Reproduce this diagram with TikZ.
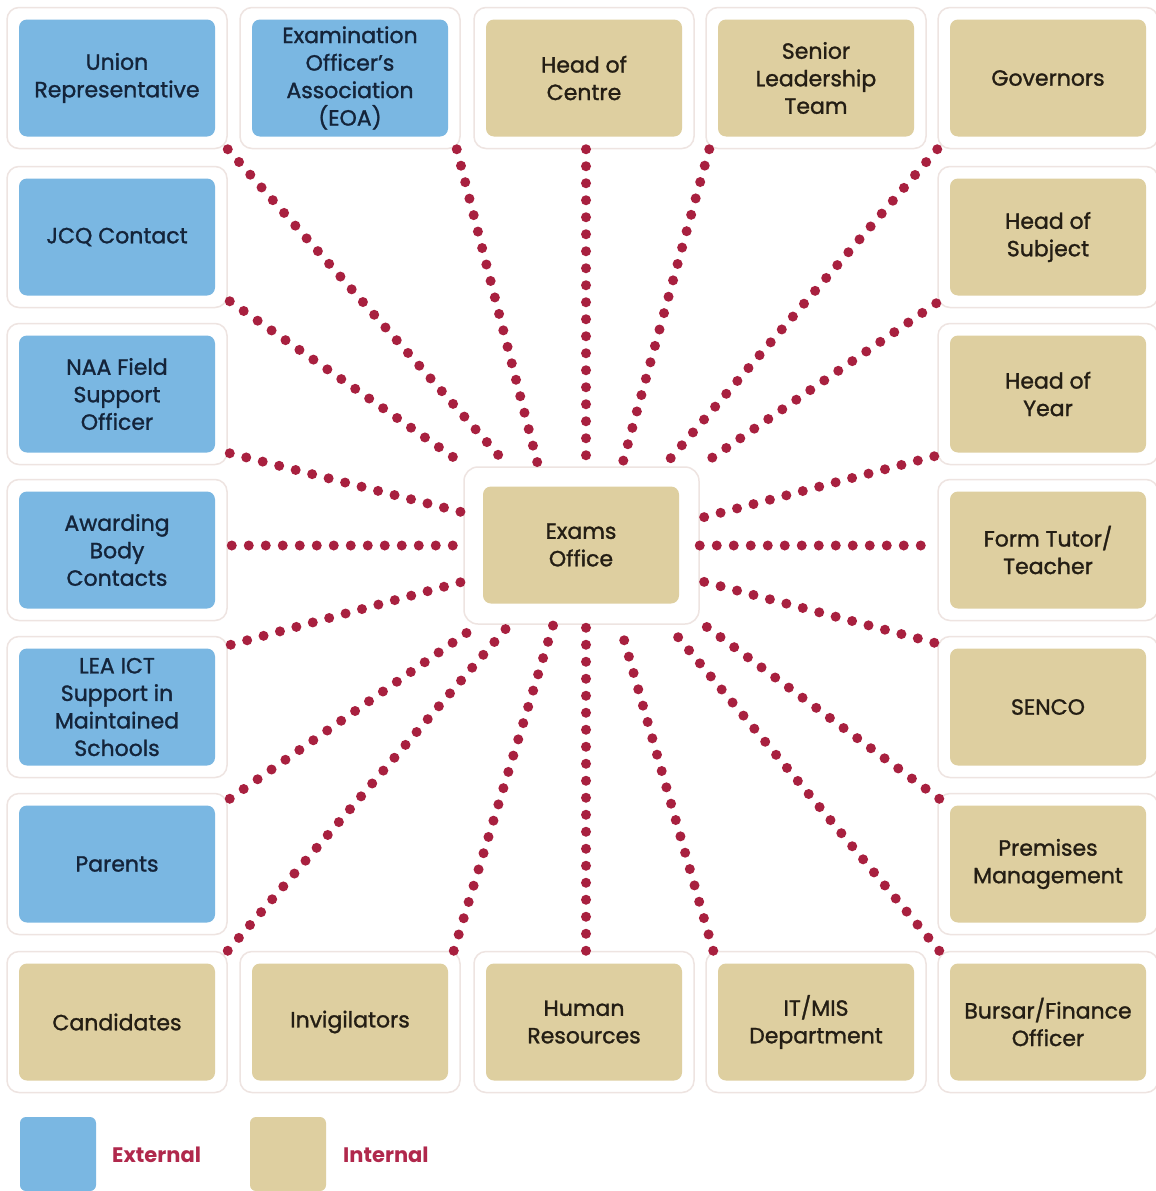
\documentclass[tikz,border=0pt]{standalone}
\usepackage{fontspec}
\setmainfont{Poppins}
\newfontfamily\boxfont{Poppins}[FakeBold=1.3]
\usetikzlibrary{calc}
\definecolor{extblue}{HTML}{7AB7E2}
\definecolor{inttan}{HTML}{DECFA0}
\definecolor{dotred}{HTML}{A8203F}
\definecolor{framecol}{HTML}{EEE4E1}
\definecolor{navytext}{HTML}{14243A}
\definecolor{tantext}{HTML}{241E14}
\definecolor{legred}{HTML}{B0284C}
\begin{document}
\begin{tikzpicture}[x=1pt,y=-1pt,
 frame/.style={draw=framecol, line width=1.5pt, fill=white, rounded corners=12pt, minimum width=220pt, minimum height=141pt, inner sep=0pt},
 box/.style={rounded corners=8pt, minimum width=196pt, minimum height=117pt, inner sep=0pt, align=center, font=\boxfont\fontsize{22}{27.5}\selectfont},
 ext/.style={box, fill=extblue, text=navytext},
 int/.style={box, fill=inttan, text=tantext},
 dotline/.style={draw=dotred, line width=10pt, line cap=round, dash pattern=on 0pt off 17pt},
 legsq/.style={rounded corners=6pt, minimum width=76pt, minimum height=74pt, inner sep=0pt},
 legtext/.style={text=legred, anchor=west, inner sep=0pt, font=\fontsize{21}{26}\selectfont\bfseries},
]
\useasboundingbox (0,0) rectangle (1156,1191);
\fill[white] (0,0) rectangle (1156,1191);
% frames
\node[frame] (fUR)  at (117,78) {};
\node[frame] (fEOA) at (350,78) {};
\node[frame] (fHoC) at (584,78) {};
\node[frame] (fSLT) at (816,78) {};
\node[frame] (fGov) at (1048,78) {};
\node[frame] (fJCQ) at (117,237) {};
\node[frame] (fHoS) at (1048,237) {};
\node[frame] (fNAA) at (117,394) {};
\node[frame] (fHoY) at (1048,394) {};
\node[frame] (fABC) at (117,550) {};
\node[frame] (fFT)  at (1048,550) {};
\node[frame] (fLEA) at (117,707) {};
\node[frame] (fSEN) at (1048,707) {};
\node[frame] (fPar) at (117,864) {};
\node[frame] (fPM)  at (1048,864) {};
\node[frame] (fCan) at (117,1022) {};
\node[frame] (fInv) at (350,1022) {};
\node[frame] (fHR)  at (584,1022) {};
\node[frame] (fIT)  at (816,1022) {};
\node[frame] (fBur) at (1048,1022) {};
\node[frame, minimum width=235pt, minimum height=157pt, rounded corners=14pt] (fc) at (581.5,545.5) {};
% connectors
\draw[dotline] (fUR.south east) -- ($(fc.north west)+(45,0)$);
\draw[dotline] ($(fEOA.south east)+(-4,0)$) -- ($(fc.north west)+(75,0)$);
\draw[dotline] ($(fHoC.south)+(2,0)$) -- ($(fHoC.south |- fc.north)+(2,0)$);
\draw[dotline] ($(fSLT.south west)+(4,0)$) -- ($(fc.north east)+(-78,0)$);
\draw[dotline] (fGov.south west) -- ($(fc.north east)+(-36,0)$);
\draw[dotline] ($(fJCQ.south east)+(2,-7)$) -- ($(fc.north west)+(3,0)$);
\draw[dotline] ($(fHoS.south west)+(-1,-5)$) -- (fc.north east);
\draw[dotline] ($(fNAA.south east)+(2,-12)$) -- ($(fc.west)+(0,-33)$);
\draw[dotline] ($(fHoY.south west)+(-3,-9)$) -- ($(fc.east)+(3,-28)$);
\draw[dotline] ($(fABC.east |- fc.west)+(4,0)$) -- (fc.west);
\draw[dotline] (fc.east) -- ($(fFT.west |- fc.east)+(-4,0)$);
\draw[dotline] ($(fLEA.north east)+(3,9)$) -- ($(fc.west)+(0,36)$);
\draw[dotline] ($(fSEN.north west)+(-3,7)$) -- ($(fc.east)+(3,36)$);
\draw[dotline] ($(fPar.north east)+(2,6)$) -- ($(fc.south west)+(15,0)$);
\draw[dotline] ($(fPM.north west)+(2,6)$) -- ($(fc.south east)+(0,-3)$);
\draw[dotline] (fCan.north east) -- ($(fc.south west)+(46,0)$);
\draw[dotline] ($(fInv.north east)+(-7,0)$) -- ($(fc.south west)+(90,0)$);
\draw[dotline] ($(fHR.north)+(2,0)$) -- ($(fHR.north |- fc.south)+(2,0)$);
\draw[dotline] ($(fIT.north west)+(8,0)$) -- ($(fc.south east)+(-80,0)$);
\draw[dotline] ($(fBur.north west)+(2,0)$) -- ($(fc.south east)+(-32,0)$);
% boxes
\node[ext] (UR)  at (fUR)  {Union\\Representative};
\node[ext] (EOA) at (fEOA) {Examination\\Officer’s\\Association\\(EOA)};
\node[int] (HoC) at (fHoC) {Head of\\Centre};
\node[int] (SLT) at (fSLT) {Senior\\Leadership\\Team};
\node[int] (Gov) at (fGov) {Governors};
\node[ext] (JCQ) at (fJCQ) {JCQ Contact};
\node[int] (HoS) at (fHoS) {Head of\\Subject};
\node[ext] (NAA) at (fNAA) {NAA Field\\Support\\Officer};
\node[int] (HoY) at (fHoY) {Head of\\Year};
\node[ext] (ABC) at (fABC) {Awarding\\Body\\Contacts};
\node[int] (FT)  at (fFT)  {Form Tutor/\\Teacher};
\node[ext] (LEA) at (fLEA) {LEA ICT\\Support in\\Maintained\\Schools};
\node[int] (SEN) at (fSEN) {SENCO};
\node[ext] (Par) at (fPar) {Parents};
\node[int] (PM)  at (fPM)  {Premises\\Management};
\node[int] (Can) at (fCan) {Candidates};
\node[int] (Inv) at (fInv) {Invigilators};
\node[int] (HR)  at (fHR)  {Human\\Resources};
\node[int] (IT)  at (fIT)  {IT/MIS\\Department};
\node[int] (Bur) at (fBur) {Bursar/Finance\\Officer};
\node[int] (EO)  at (581,545) {Exams\\Office};
% legend
\node[legsq, fill=extblue] (legExt) at (58,1154) {};
\node[legtext] (legExtT) at (112,1155) {External};
\node[legsq, fill=inttan] (legInt) at (288,1154) {};
\node[legtext] (legIntT) at (343,1155) {Internal};
\end{tikzpicture}
\end{document}
